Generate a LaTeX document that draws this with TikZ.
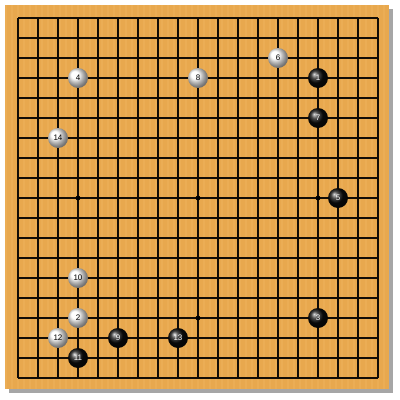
\documentclass[tikz,border=0pt]{standalone}
\usepackage{fontspec}
\setmainfont{Liberation Sans}
\begin{document}
\begin{tikzpicture}[x=1pt,y=-1pt,
  bstone/.style={circle,minimum size=20pt,inner sep=0pt,shading=ball,ball color=black!95,text=white,font=\fontsize{8}{9}\selectfont},
  wstone/.style={circle,minimum size=20pt,inner sep=0pt,shading=ball,ball color=white,text=black,font=\fontsize{8}{9}\selectfont},
  gridline/.style={line width=1.1pt,black!90!brown}]
\definecolor{wood}{RGB}{232,168,78}
\definecolor{woodlight}{RGB}{240,182,96}
\useasboundingbox (0,0) rectangle (400,400);
\fill[white] (0,0) rectangle (400,400);
\fill[gray!70] (9,9) rectangle (393,393);
\fill[wood] (5,5) rectangle (389,389);
\foreach \i in {0,...,63}{
  \fill[woodlight,opacity=0.4] (5+\i*6,5) rectangle (7+\i*6,389);
}
\foreach \i in {0,...,18}{
  \draw[gridline] (18+\i*20,18) -- (18+\i*20,378);
  \draw[gridline] (18,18+\i*20) -- (378,18+\i*20);
}
\foreach \p in {78,198,318}{\foreach \q in {78,198,318}{
  \fill[black] (\p,\q) circle (2.4);
}}
\newcommand\pos[2]{(18+#1*20,18+#2*20)}
\node[bstone] (s1) at \pos{15}{3} {1};
\node[wstone] (s2) at \pos{3}{15} {2};
\node[bstone] (s3) at \pos{15}{15} {3};
\node[wstone] (s4) at \pos{3}{3} {4};
\node[bstone] (s5) at \pos{16}{9} {5};
\node[wstone] (s6) at \pos{13}{2} {6};
\node[bstone] (s7) at \pos{15}{5} {7};
\node[wstone] (s8) at \pos{9}{3} {8};
\node[bstone] (s9) at \pos{5}{16} {9};
\node[wstone] (s10) at \pos{3}{13} {10};
\node[bstone] (s11) at \pos{3}{17} {11};
\node[wstone] (s12) at \pos{2}{16} {12};
\node[bstone] (s13) at \pos{8}{16} {13};
\node[wstone] (s14) at \pos{2}{6} {14};
\end{tikzpicture}
\end{document}
